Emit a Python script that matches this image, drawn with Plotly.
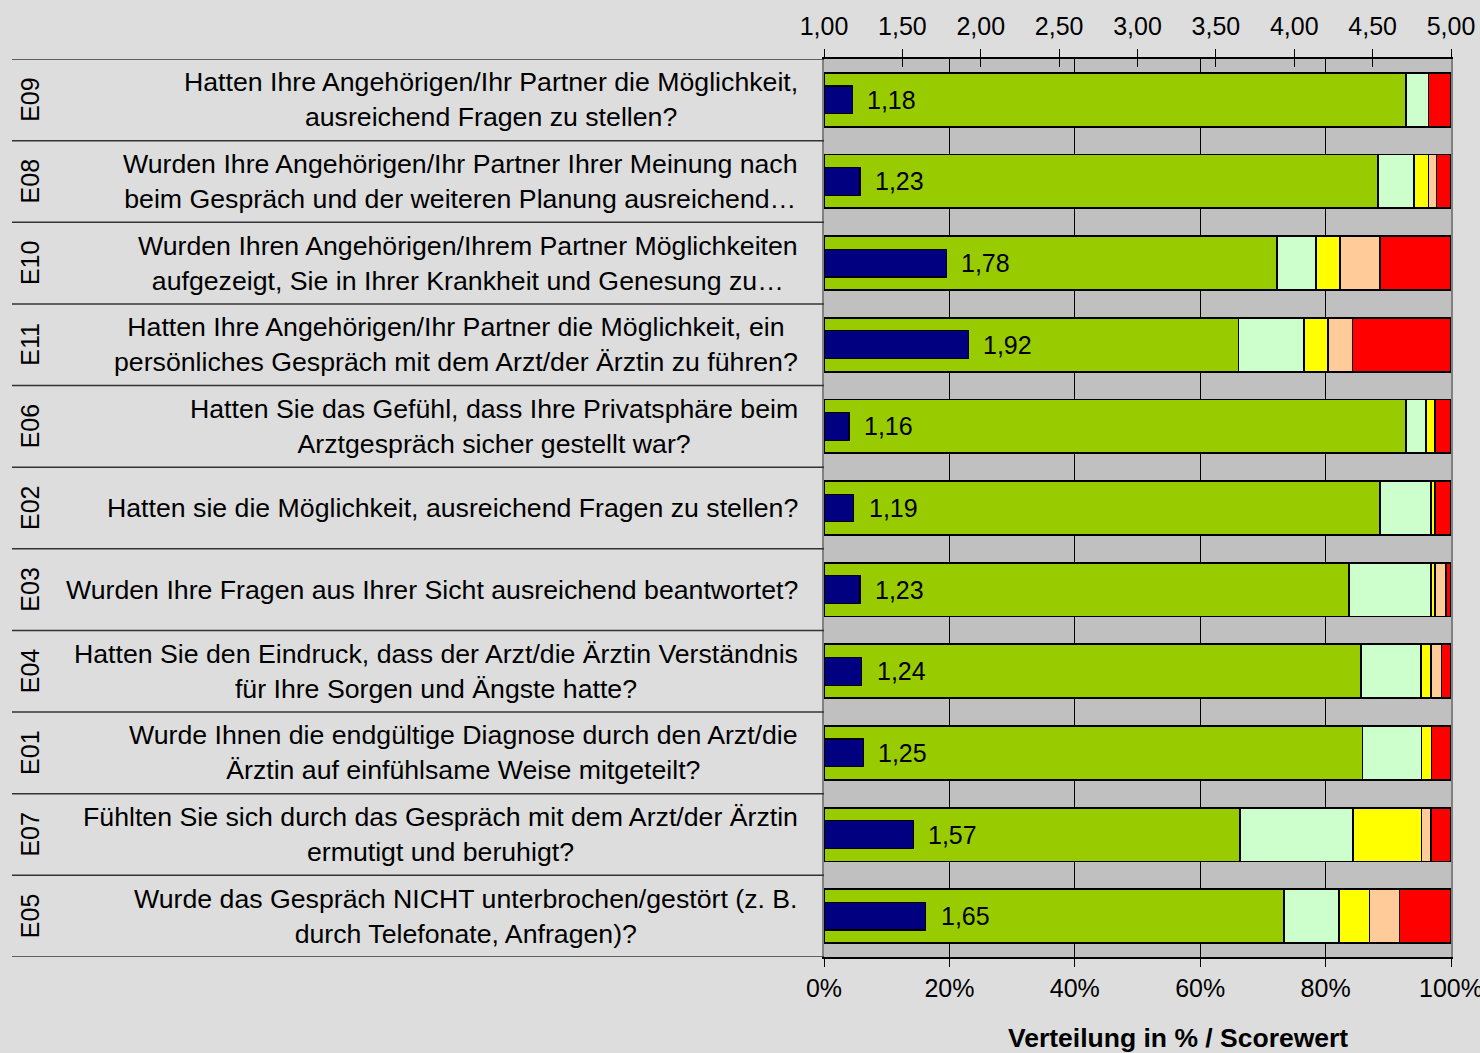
import plotly.graph_objects as go

codes = ["E09", "E08", "E10", "E11", "E06", "E02", "E03", "E04", "E01", "E07", "E05"]
questions = [
    "Hatten Ihre Angehörigen/Ihr Partner die Möglichkeit,<br>ausreichend Fragen zu stellen?",
    "Wurden Ihre Angehörigen/Ihr Partner Ihrer Meinung nach<br>beim Gespräch und der weiteren Planung ausreichend…",
    "Wurden Ihren Angehörigen/Ihrem Partner Möglichkeiten<br>aufgezeigt, Sie in Ihrer Krankheit und Genesung zu…",
    "Hatten Ihre Angehörigen/Ihr Partner die Möglichkeit, ein<br>persönliches Gespräch mit dem Arzt/der Ärztin zu führen?",
    "Hatten Sie das Gefühl, dass Ihre Privatsphäre beim<br>Arztgespräch sicher gestellt war?",
    "Hatten sie die Möglichkeit, ausreichend Fragen zu stellen?",
    "Wurden Ihre Fragen aus Ihrer Sicht ausreichend beantwortet?",
    "Hatten Sie den Eindruck, dass der Arzt/die Ärztin Verständnis<br>für Ihre Sorgen und Ängste hatte?",
    "Wurde Ihnen die endgültige Diagnose durch den Arzt/die<br>Ärztin auf einfühlsame Weise mitgeteilt?",
    "Fühlten Sie sich durch das Gespräch mit dem Arzt/der Ärztin<br>ermutigt und beruhigt?",
    "Wurde das Gespräch NICHT unterbrochen/gestört (z. B.<br>durch Telefonate, Anfragen)?",
]

# distribution in percent (category 1 .. 5)
cat1 = [92.8, 88.4, 72.2, 66.1, 92.8, 88.7, 83.7, 85.6, 85.9, 66.3, 73.4]
cat2 = [3.6, 5.7, 6.3, 10.5, 3.2, 8.1, 13.1, 9.6, 9.4, 18.1, 8.8]
cat3 = [0.0, 2.3, 3.8, 3.8, 1.4, 0.7, 0.7, 1.6, 1.6, 10.9, 4.8]
cat4 = [0.0, 1.3, 6.4, 3.9, 0.0, 0.0, 1.7, 1.7, 0.0, 1.5, 4.8]
cat5 = [3.6, 2.3, 11.3, 15.7, 2.6, 2.5, 0.8, 1.5, 3.1, 3.2, 8.2]

scores = [1.18, 1.23, 1.78, 1.92, 1.16, 1.19, 1.23, 1.24, 1.25, 1.57, 1.65]

pct_ticks = [0, 20, 40, 60, 80, 100]
score_ticks = [1.0, 1.5, 2.0, 2.5, 3.0, 3.5, 4.0, 4.5, 5.0]

seg_colors = ["#99CC00", "#CCFFCC", "#FFFF00", "#FFCC99", "#FF0000"]
FONT = "Liberation Sans, Arial, sans-serif"
FS = 25
FSQ = 26.7

ypos = list(range(len(codes)))

fig = go.Figure()
for vals, col in zip([cat1, cat2, cat3, cat4, cat5], seg_colors):
    fig.add_trace(go.Bar(
        y=ypos, x=vals, orientation="h", width=0.66,
        marker=dict(color=col, line=dict(color="black", width=1.8)),
        xaxis="x", yaxis="y", showlegend=False, hoverinfo="skip",
    ))

fig.add_trace(go.Bar(
    y=ypos, x=[s - 1 for s in scores], base=[1] * len(scores), orientation="h", width=0.34,
    marker=dict(color="#000080", line=dict(color="black", width=1.2)),
    xaxis="x2", yaxis="y", showlegend=False, hoverinfo="skip",
))

annotations = []
for i, s in enumerate(scores):
    annotations.append(dict(
        x=s, y=i, xref="x2", yref="y", xanchor="left", yanchor="middle",
        xshift=13, text=f"{s:.2f}".replace(".", ","), showarrow=False,
        font=dict(family=FONT, size=FS, color="black"),
    ))

plot_w = 1480 - 824 - 29
plot_h = 1053 - 59 - 96
for i, (c, q) in enumerate(zip(codes, questions)):
    annotations.append(dict(
        x=-24 / plot_w, y=i, xref="paper", yref="y", xanchor="right", yanchor="middle",
        align="center", text=q, showarrow=False,
        font=dict(family=FONT, size=FSQ, color="black"),
    ))
    annotations.append(dict(
        x=(30 - 824) / plot_w, y=i, xref="paper", yref="y", xanchor="center", yanchor="middle",
        text=c, textangle=-90, showarrow=False,
        font=dict(family=FONT, size=FS, color="black"),
    ))

annotations.append(dict(
    x=(1178 - 824) / plot_w, y=-(1038 - 957) / plot_h, xref="paper", yref="paper",
    xanchor="center", yanchor="middle", showarrow=False,
    text="<b>Verteilung in % / Scorewert</b>",
    font=dict(family=FONT, size=26.5, color="black"),
))

shapes = []
for k in range(len(codes) + 1):
    shapes.append(dict(
        type="line", xref="paper", yref="y", x0=(12 - 824) / plot_w, x1=0,
        y0=k - 0.5, y1=k - 0.5, line=dict(color="#333333", width=1.5),
    ))

fig.update_layout(
    width=1480, height=1053, autosize=False,
    margin=dict(l=824, r=29, t=59, b=96, pad=0, autoexpand=False),
    paper_bgcolor="#DDDDDD", plot_bgcolor="#C0C0C0",
    barmode="stack", bargap=0.34,
    separators=",.",
    font=dict(family=FONT, size=FS, color="black"),
    xaxis=dict(
        range=[0, 100], tickvals=pct_ticks, ticktext=[f"{v}%" for v in pct_ticks],
        showgrid=True, gridcolor="black", gridwidth=1, zeroline=False,
        showline=True, linecolor="black", linewidth=1.5,
        ticks="outside", ticklen=8, tickcolor="black", tickwidth=1,
        tickfont=dict(family=FONT, size=FS, color="black"),
        ticklabeloverflow="allow",
        side="bottom", fixedrange=True, automargin=False,
    ),
    xaxis2=dict(
        range=[1, 5], tickvals=score_ticks, tickformat=".2f",
        overlaying="x", side="top", showgrid=False, zeroline=False,
        showline=True, linecolor="black", linewidth=1.5,
        ticks="outside", ticklen=8, tickcolor="black", tickwidth=1,
        ticklabelstandoff=4, ticklabeloverflow="allow",
        tickfont=dict(family=FONT, size=FS, color="black"),
        fixedrange=True, automargin=False,
    ),
    xaxis3=dict(
        range=[1, 5], tickvals=score_ticks, showticklabels=False,
        overlaying="x", side="top", showgrid=False, zeroline=False,
        ticks="inside", ticklen=8, tickcolor="black", tickwidth=1,
        fixedrange=True, automargin=False,
    ),
    yaxis=dict(
        range=[len(codes) - 0.5, -0.5], showticklabels=False, showgrid=False,
        zeroline=False, showline=True, linecolor="#808080", linewidth=2, mirror=True,
        ticks="", fixedrange=True, automargin=False,
    ),
    annotations=annotations, shapes=shapes,
)

# invisible trace to activate xaxis3 (crossing tick marks on top axis)
fig.add_trace(go.Scatter(x=[1], y=[0], xaxis="x3", yaxis="y", mode="markers",
                         marker=dict(opacity=0), showlegend=False, hoverinfo="skip"))

fig.write_html(
    "out.html",
    config={"responsive": False, "displayModeBar": False},
    post_script=(
        "document.body.style.margin='0';document.body.style.overflow='hidden';"
        "var gd=document.getElementById('{plot_id}');"
        "Plotly.relayout(gd,{width:1480,height:1053});"
    ),
)
